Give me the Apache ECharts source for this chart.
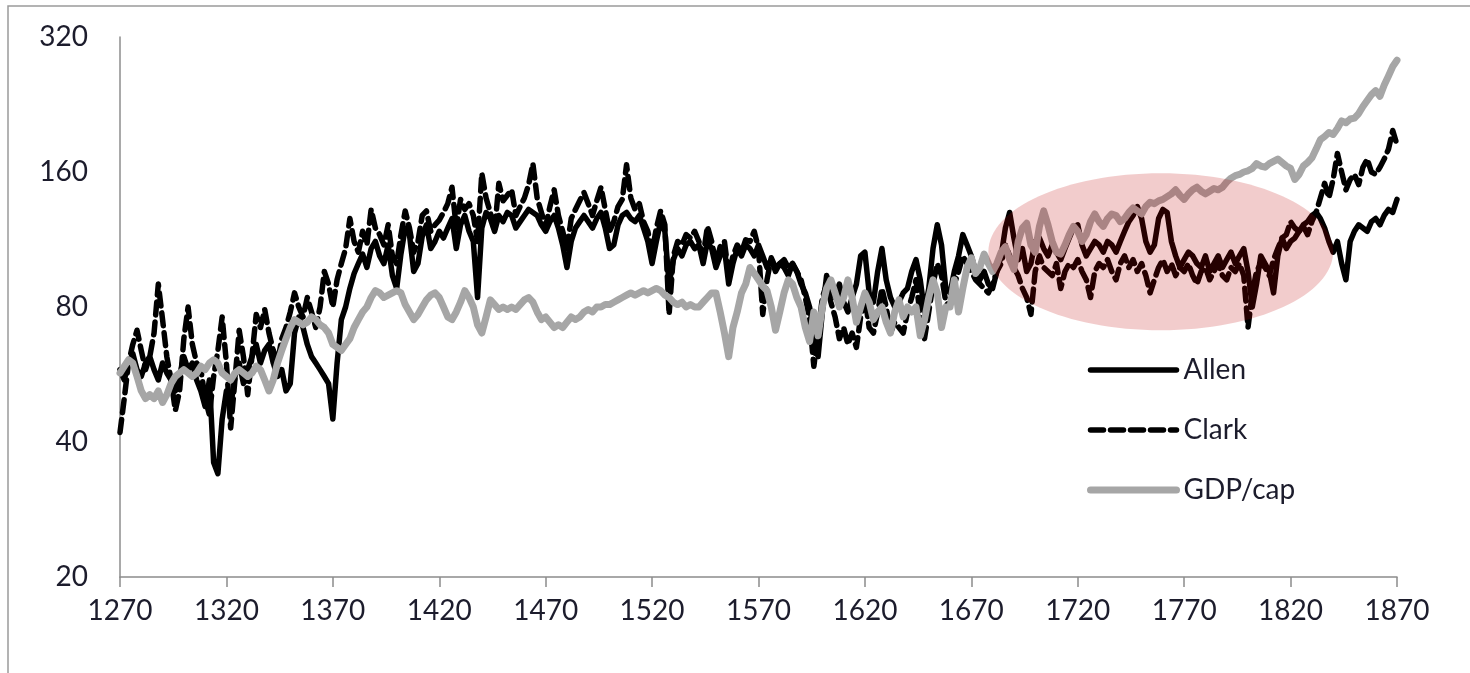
<!DOCTYPE html>
<html><head><meta charset="utf-8">
<script src="https://cdn.jsdelivr.net/npm/echarts@6/dist/echarts.min.js"></script>
<style>html,body{margin:0;padding:0;background:#fff}#c{width:1470px;height:673px}</style>
</head><body><div id="c"></div><script>
const START_YEAR = 1270, STEP = 2;
const seriesNames = ['Allen', 'Clark', 'GDP/cap'];
const yTicks = [20, 40, 80, 160, 320];
// values every 2 years, 1270..1870 (one row per decade)
const allen = [
58,55,60,63,58, 56,60,62,58,55, 60,57,55,52,56, 62,58,60,55,52, 48,55,36,34,45,
52,48,56,60,54, 58,62,66,60,64, 66,60,56,58,52, 54,70,76,72,66, 62,60,58,56,54,
45,60,75,80,88, 95,100,105,98,108, 112,104,100,110,94, 88,105,120,116,96, 100,115,122,108,112,
118,114,120,126,108, 122,128,118,112,84, 120,130,126,118,128, 124,130,128,120,124, 128,132,130,128,122,
118,124,128,120,110, 98,112,120,124,128, 124,120,126,130,120, 108,110,122,128,130, 126,124,128,120,112,
100,112,124,118,90, 102,108,104,110,112, 108,110,100,112,108, 98,104,108,90,100, 108,104,110,108,104,
110,104,98,102,96, 100,98,94,100,96, 90,86,80,70,62, 78,94,88,84,90, 82,78,84,90,104,
106,86,82,96,108, 92,84,80,82,86, 88,96,102,92,78, 88,108,122,110,88, 86,96,104,116,110,
104,96,92,96,90, 88,96,104,120,130, 114,102,108,96,100, 112,114,108,104,110, 106,102,108,114,120,
122,110,104,108,112, 110,106,112,110,106, 112,118,124,128,134, 126,112,106,110,126, 132,130,112,104,98,
102,106,104,100,98, 104,96,100,104,98, 102,106,100,104,108, 96,80,90,104,100, 96,86,104,114,108,
112,114,118,122,124, 128,130,126,120,112, 106,112,100,92,112, 118,122,120,118,124, 126,122,128,132,130,
139];
const clark = [
42,50,60,66,71, 64,58,62,70,90, 75,62,55,47,52, 68,80,66,60,58, 50,46,56,64,76,
60,43,55,71,62, 51,62,77,72,79, 70,64,60,68,72, 78,86,80,76,84, 78,72,80,96,90,
80,92,100,108,126, 112,106,118,110,132, 120,116,110,122,104, 100,116,131,120,106, 112,128,131,118,122,
125,130,136,148,120, 139,132,136,128,112, 159,140,130,118,151, 138,142,146,128,134, 140,150,167,140,130,
121,134,146,128,118, 108,126,132,138,144, 136,128,138,148,132, 118,124,134,139,166, 140,132,136,124,118,
106,120,131,122,77, 104,112,110,116,114, 118,112,104,121,112, 100,109,112,94,104, 110,106,113,112,118,
108,77,92,103,98, 100,102,98,100,96, 92,84,75,59,70, 84,90,82,76,68, 72,66,70,65,76,
84,72,70,78,88, 80,70,74,72,70, 78,84,92,76,68, 78,90,100,94,82, 80,90,96,104,100,
96,92,90,88,86, 90,96,100,110,104, 98,94,88,84,77, 96,104,98,96,94, 100,88,96,100,98,
102,96,92,84,96, 100,98,102,96,92, 100,104,98,102,96, 100,94,86,92,98, 102,96,100,94,98,
96,100,94,90,96, 98,92,96,100,94, 92,98,96,100,94, 72,86,96,100,98, 94,102,108,114,116,
124,120,118,121,116, 124,130,140,151,140, 154,176,160,146,154, 158,150,164,171,160, 158,164,171,180,198,
184];
const gdp = [
57,59,61,60,56, 52,50,51,50,52, 49,51,54,56,57, 58,57,56,57,59, 58,60,61,60,57,
56,55,57,58,57, 56,57,59,58,55, 52,55,60,64,68, 72,75,74,73,74, 76,75,73,72,70,
66,65,64,66,68, 72,75,78,80,84, 87,86,84,85,86, 87,86,81,78,75, 77,80,83,85,86,
84,80,76,75,78, 82,87,84,80,73, 70,76,83,81,79, 80,79,80,79,81, 83,84,82,78,75,
76,74,72,73,72, 74,76,75,76,78, 79,78,80,80,81, 81,82,83,84,85, 86,85,86,87,86,
87,88,87,85,84, 82,81,82,80,81, 80,80,82,84,86, 86,78,70,62,72, 78,86,90,98,95,
92,89,87,80,71, 78,86,92,90,84, 80,72,67,78,69, 80,88,92,86,80, 84,92,84,74,80,
86,82,75,78,80, 74,70,78,83,76, 80,78,80,69,75, 84,92,86,72,80, 80,92,78,88,98,
103,95,98,105,100, 96,100,106,109,102, 97,112,120,123,110, 106,121,131,122,112, 106,105,110,116,121,
118,112,116,124,129, 124,121,126,129,128, 124,126,130,133,131, 129,134,137,136,138, 139,141,143,146,142,
139,143,146,148,145, 143,145,147,146,148, 152,155,157,158,160, 161,163,167,165,164, 167,169,171,168,165,
163,154,158,165,168, 172,180,189,192,196, 194,200,208,206,210, 211,216,224,231,238, 243,236,250,262,275,
284];
// highlighted region (years / values)
const highlight = { yearFrom: 1678, yearTo: 1840, valTop: 159, valBottom: 71 };

const years = [];
for (let i = 0; i < gdp.length; i++) years.push(String(START_YEAR + i * STEP));

const FONT = 'Lato';
const TXT = '#1c1c2c';
const BLACK_W = 5.5, GRAY_W = 7;
const chart = echarts.init(document.getElementById('c'), null, { renderer: 'canvas' });
const lineBase = { type: 'line', showSymbol: false, symbol: 'none', smooth: false, animation: false };
chart.setOption({
  backgroundColor: '#fff',
  animation: false,
  grid: { left: 120, right: 73, top: 37, bottom: 96, containLabel: false },
  legend: {
    orient: 'vertical', left: 1082, top: 350,
    itemWidth: 86, itemHeight: 14, itemGap: 30,
    itemStyle: { opacity: 0 },
    textStyle: { fontFamily: FONT, fontSize: 28, color: TXT, lineHeight: 30, padding: [0, 0, 0, 2] },
    data: [
      { name: seriesNames[0], lineStyle: { width: BLACK_W, color: '#000', cap: 'round' } },
      { name: seriesNames[1], lineStyle: { width: BLACK_W, color: '#000', type: [13, 7], cap: 'round' } },
      { name: seriesNames[2], lineStyle: { width: GRAY_W, color: '#a6a6a6', cap: 'round' } }
    ]
  },
  xAxis: {
    type: 'category', data: years, boundaryGap: false,
    axisLine: { lineStyle: { color: '#8c8c8c', width: 1.5 } },
    axisTick: { show: true, inside: false, length: 10, interval: 24, lineStyle: { color: '#8c8c8c', width: 1.5 } },
    axisLabel: { interval: 24, margin: 20, fontFamily: FONT, fontSize: 28, color: TXT, showMaxLabel: true },
    splitLine: { show: false }
  },
  yAxis: {
    type: 'log', logBase: 2, min: yTicks[0], max: yTicks[yTicks.length - 1],
    axisLine: { show: true, lineStyle: { color: '#8c8c8c', width: 1.5 } },
    axisTick: { show: false },
    axisLabel: { margin: 32, fontFamily: FONT, fontSize: 28, color: TXT, customValues: yTicks,
      formatter: v => String(Math.round(v)) },
    splitLine: { show: false }, minorTick: { show: false }
  },
  series: [
    Object.assign({}, lineBase, { name: seriesNames[0], data: allen, z: 2,
      itemStyle: { color: '#000' },
      lineStyle: { color: '#000', width: BLACK_W, cap: 'round', join: 'round' } }),
    Object.assign({}, lineBase, { name: seriesNames[1], data: clark, z: 3,
      itemStyle: { color: '#000' },
      lineStyle: { color: '#000', width: BLACK_W, type: [13, 7], cap: 'round', join: 'round' } }),
    Object.assign({}, lineBase, { name: seriesNames[2], data: gdp, z: 4,
      itemStyle: { color: '#a6a6a6' },
      lineStyle: { color: '#a6a6a6', width: GRAY_W, cap: 'round', join: 'round' } })
  ]
});

const iFrom = (highlight.yearFrom - START_YEAR) / STEP;
const iTo = (highlight.yearTo - START_YEAR) / STEP;
const pL = chart.convertToPixel({ gridIndex: 0 }, [iFrom, highlight.valTop]);
const pR = chart.convertToPixel({ gridIndex: 0 }, [iTo, highlight.valBottom]);
chart.setOption({
  graphic: [
    { type: 'polyline', z: 200, silent: true,
      shape: { points: [[8, 720], [8, 6], [1480, 6]] },
      style: { fill: 'none', stroke: '#9a9a9a', lineWidth: 1.5 } },
    { type: 'ellipse', z: 100, silent: true,
      shape: { cx: (pL[0] + pR[0]) / 2, cy: (pL[1] + pR[1]) / 2,
               rx: Math.abs(pR[0] - pL[0]) / 2, ry: Math.abs(pR[1] - pL[1]) / 2 },
      style: { fill: 'rgba(192,0,0,0.2)', stroke: 'none' } }
  ]
});
</script></body></html>
